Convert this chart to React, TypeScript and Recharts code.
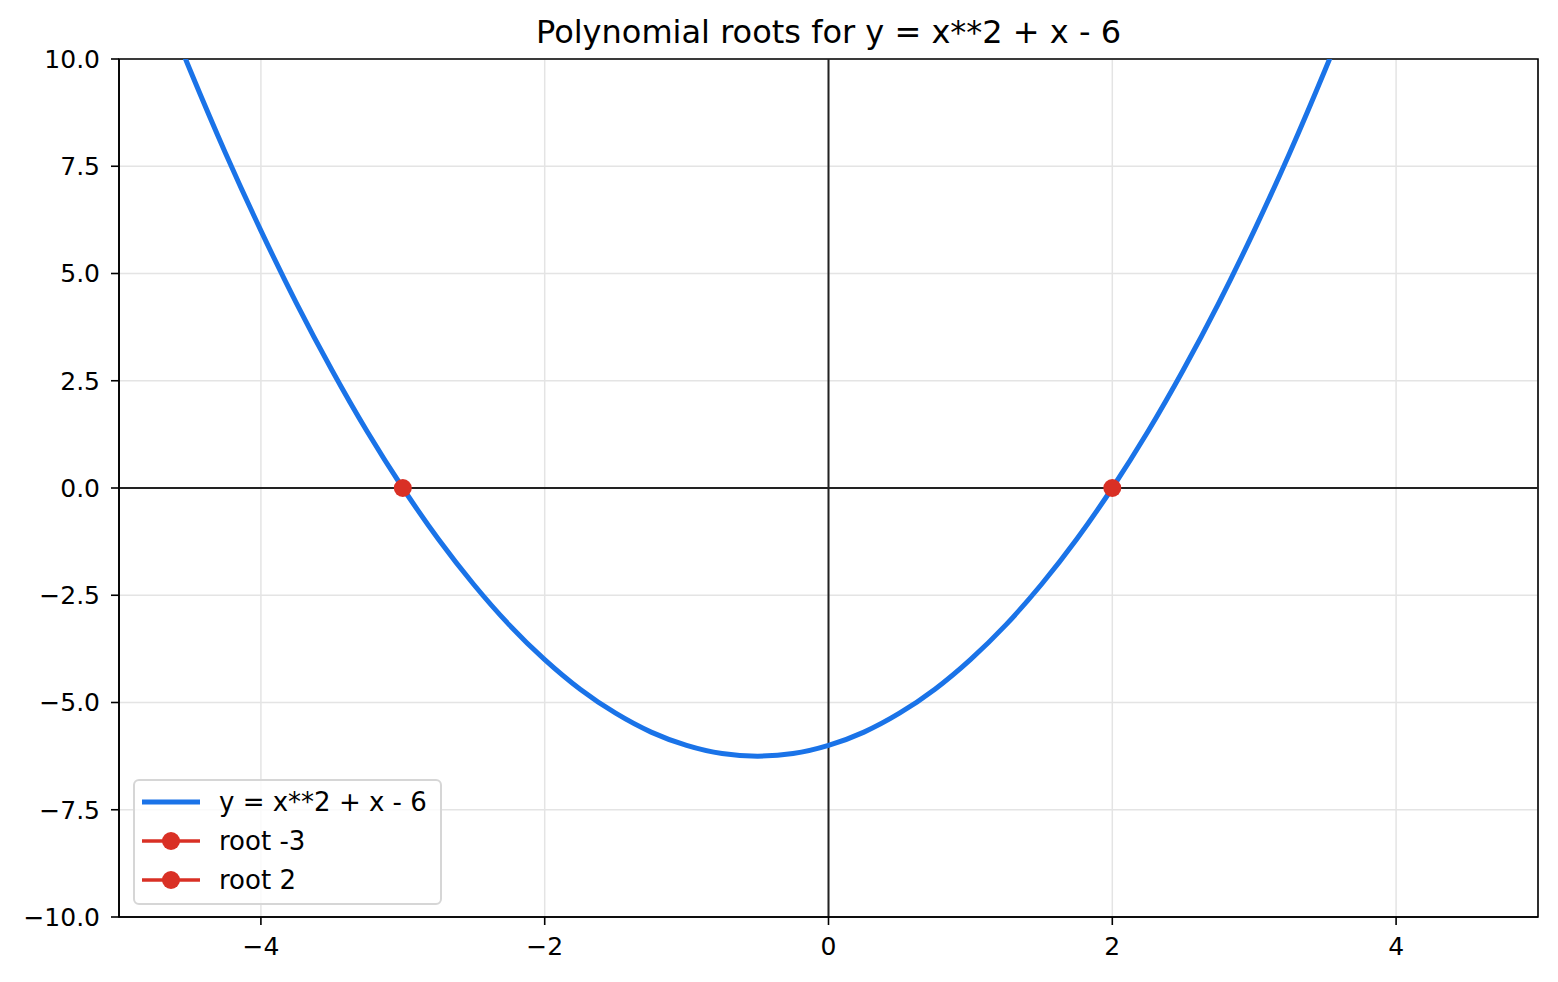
import React from "react";
import {
  ComposedChart,
  Line,
  Scatter,
  XAxis,
  YAxis,
  CartesianGrid,
  ReferenceLine,
  ReferenceArea,
} from "recharts";

// values
const curveX = [
  -4.54, -4.5, -4.25, -4, -3.75, -3.5, -3.25, -3, -2.75, -2.5, -2.25, -2, -1.75, -1.5, -1.25, -1,
  -0.75, -0.5, -0.25, 0, 0.25, 0.5, 0.75, 1, 1.25, 1.5, 1.75, 2, 2.25, 2.5, 2.75, 3, 3.25, 3.5, 3.54,
];
const curveY = [
  10.07, 9.75, 7.81, 6, 4.31, 2.75, 1.31, 0, -1.19, -2.25, -3.19, -4, -4.69, -5.25, -5.69, -6,
  -6.19, -6.25, -6.19, -6, -5.69, -5.25, -4.69, -4, -3.19, -2.25, -1.19, 0, 1.31, 2.75, 4.31, 6, 7.81, 9.75, 10.07,
];
const rootX = [-3, 2];
const rootY = [0, 0];
const rootLabels = ["root -3", "root 2"];
const curveLabel = "y = x**2 + x - 6";
const title = "Polynomial roots for y = x**2 + x - 6";
const xTicks = [-4, -2, 0, 2, 4];
const yTicks = [-10, -7.5, -5, -2.5, 0, 2.5, 5, 7.5, 10];

const BLUE = "#1a73e8";
const RED = "#d93025";
const FONT = "DejaVu Sans, sans-serif";

const curveData = curveX.map((x, i) => ({ x, y: curveY[i] }));
const rootData = rootX.map((x, i) => ({ x, y: rootY[i], name: rootLabels[i] }));

const minus = (s: string) => s.replace("-", "\u2212");

const RootDot = (props: any) => <circle cx={props.cx} cy={props.cy} r={9} fill={RED} />;

function LegendBox() {
  const rows = [
    { label: curveLabel, color: BLUE, marker: false },
    ...rootLabels.map((l) => ({ label: l, color: RED, marker: true })),
  ];
  return (
    <div
      style={{
        position: "absolute",
        left: 133,
        top: 779,
        width: 305,
        height: 122,
        border: "2px solid #d6d6d6",
        borderRadius: 6,
        background: "rgba(255,255,255,0.8)",
        fontFamily: FONT,
        fontSize: 26,
        color: "#000",
      }}
    >
      {rows.map((r, i) => (
        <div
          key={r.label}
          style={{ position: "absolute", left: 5, top: 3 + i * 39, height: 36, display: "flex", alignItems: "center" }}
        >
          <svg width={62} height={20} style={{ marginRight: 17 }}>
            <line x1={2} y1={10} x2={60} y2={10} stroke={r.color} strokeWidth={r.marker ? 3.5 : 5} />
            {r.marker && <circle cx={31} cy={10} r={9} fill={r.color} />}
          </svg>
          <span style={{ whiteSpace: "pre" }}>{r.label}</span>
        </div>
      ))}
    </div>
  );
}

export default function App() {
  return (
    <div style={{ position: "absolute", left: 0, top: 0, width: 1558, height: 982, background: "#fff" }}>
      <div
        style={{
          position: "absolute",
          left: 119,
          width: 1419,
          top: 13,
          textAlign: "center",
          fontFamily: FONT,
          fontSize: 32,
          whiteSpace: "pre",
        }}
      >
        {title}
      </div>
      <ComposedChart width={1558} height={982} margin={{ top: 59, right: 20, bottom: 0, left: 0 }}>
        <CartesianGrid stroke="#e4e4e4" strokeWidth={1.5} />
        <XAxis
          type="number"
          dataKey="x"
          domain={[-5, 5]}
          ticks={xTicks}
          allowDataOverflow
          height={65}
          tickSize={8}
          tickMargin={12}
          axisLine={{ stroke: "#000", strokeWidth: 1.6 }}
          tickLine={{ stroke: "#000", strokeWidth: 1.6 }}
          tick={{ fill: "#000", fontFamily: FONT, fontSize: 25 }}
          tickFormatter={(v) => minus(String(v))}
        />
        <YAxis
          type="number"
          dataKey="y"
          domain={[-10, 10]}
          ticks={yTicks}
          allowDataOverflow
          width={119}
          tickSize={8}
          tickMargin={11}
          axisLine={{ stroke: "#000", strokeWidth: 1.6 }}
          tickLine={{ stroke: "#000", strokeWidth: 1.6 }}
          tick={{ fill: "#000", fontFamily: FONT, fontSize: 25 }}
          tickFormatter={(v) => minus(Number(v).toFixed(1))}
        />
        <ReferenceLine x={0} stroke="#222" strokeWidth={2} />
        <ReferenceLine y={0} stroke="#222" strokeWidth={2} />
        <Line
          data={curveData}
          dataKey="y"
          type="monotone"
          stroke={BLUE}
          strokeWidth={5}
          dot={false}
          activeDot={false}
          isAnimationActive={false}
        />
        <Scatter data={rootData} dataKey="y" fill={RED} shape={RootDot} isAnimationActive={false} />
        <ReferenceArea x1={-5} x2={5} y1={-10} y2={10} fill="none" stroke="#000" strokeWidth={1.6} fillOpacity={0} />
      </ComposedChart>
      <LegendBox />
    </div>
  );
}
